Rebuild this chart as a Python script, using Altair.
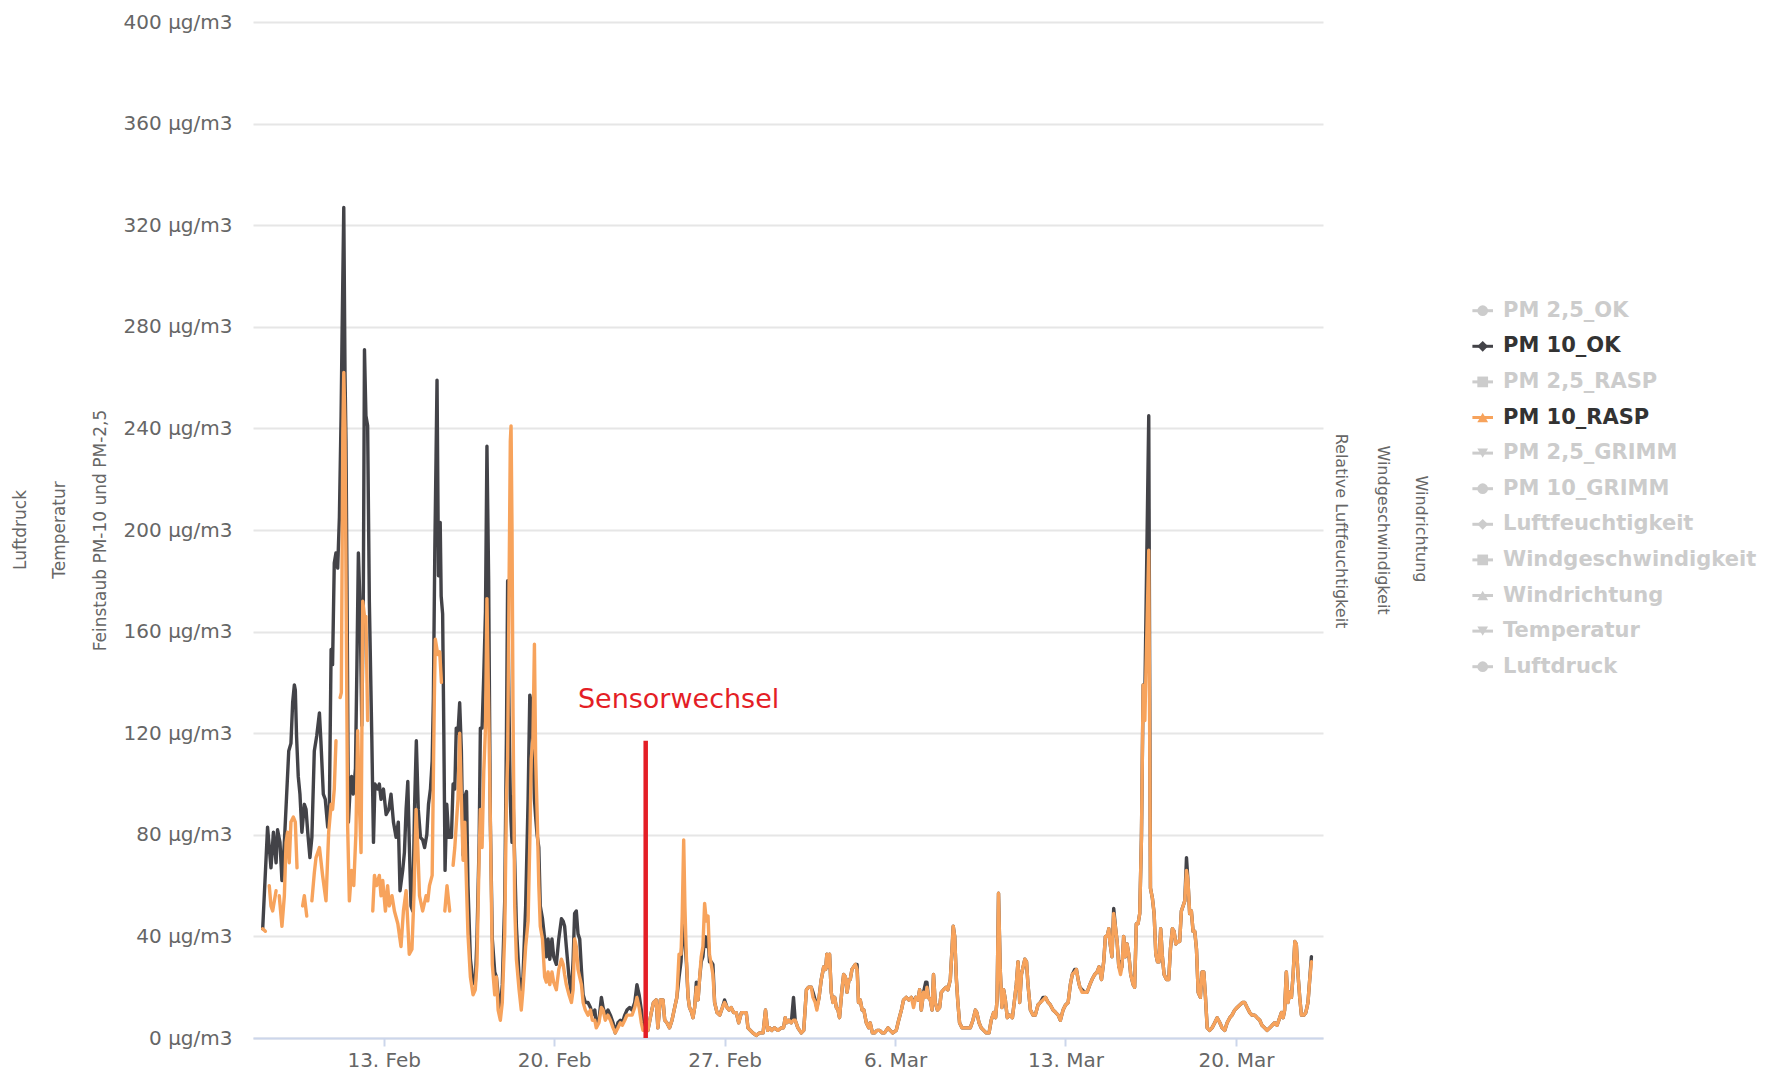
import altair as alt
import pandas as pd

START = pd.Timestamp("2017-02-08 00:00")
RED = "#e41e26"

# ---- PM 10_OK, 8-15 Feb (days after 8 Feb 00:00, µg/m3)
ok_days_a = [0.03, 0.23, 0.37, 0.47, 0.58, 0.64, 0.74, 0.82, 0.92, 1.01,
             1.10, 1.19, 1.26, 1.33, 1.37, 1.42, 1.49, 1.56, 1.64, 1.74,
             1.81, 1.88, 1.97, 2.05, 2.15, 2.25, 2.36, 2.42, 2.52, 2.60,
             2.70, 2.77, 2.84, 2.90, 2.97, 3.04, 3.11, 3.18, 3.25, 3.29,
             3.36, 3.41, 3.45, 3.49, 3.55, 3.62, 3.68, 3.75, 3.84, 3.90,
             3.96, 4.03, 4.10, 4.16, 4.21, 4.27, 4.34, 4.41, 4.51, 4.58,
             4.64, 4.75, 4.82, 4.89, 4.99, 5.10, 5.21, 5.30, 5.40, 5.51,
             5.60, 5.67, 5.78, 5.85, 5.92, 5.99, 6.05, 6.12, 6.19, 6.27,
             6.34, 6.42, 6.51, 6.60, 6.68, 6.77, 6.84, 6.92, 6.99, 7.04,
             7.10, 7.15, 7.19, 7.25, 7.32, 7.36, 7.42, 7.47, 7.52, 7.59,
             7.67]
ok_vals_a = [43, 83, 67, 81, 69, 82, 77, 62, 77, 95,
             113, 116, 132, 139, 137, 119, 103, 96, 81, 92,
             90, 81, 71, 79, 113, 119, 128, 117, 96, 94,
             83, 92, 153, 147, 187, 191, 185, 205, 245, 277,
             327, 262, 235, 182, 85, 98, 103, 96, 106, 147,
             191, 170, 123, 168, 271, 245, 241, 172, 119, 77,
             100, 98, 100, 94, 98, 88, 90, 96, 85, 79,
             85, 58, 66, 73, 90, 101, 77, 52, 50, 92,
             117, 90, 79, 78, 75, 80, 92, 98, 109, 134,
             193, 229, 259, 182, 203, 174, 167, 119, 66, 92,
             79]

# ---- PM 10_RASP, 8-15 Feb (None = gap in the series)
rasp_days_a = [0.03, 0.14, 0.22, 0.30, 0.37, 0.44, 0.51, 0.58, 0.64, 0.71,
               0.82, 0.92, 0.99, 1.05, 1.12, 1.19, 1.29, 1.37, 1.44, 1.55,
               1.67, 1.74, 1.84, 1.95, 2.05, 2.15, 2.22, 2.36, 2.42, 2.49,
               2.63, 2.74, 2.84, 2.90, 2.97, 3.04, 3.12, 3.21, 3.26, 3.32,
               3.36, 3.41, 3.52, 3.59, 3.68, 3.77, 3.86, 3.93, 4.00, 4.07,
               4.14, 4.21, 4.27, 4.34, 4.45, 4.55, 4.62, 4.71, 4.82, 4.89,
               4.96, 5.07, 5.16, 5.23, 5.34, 5.44, 5.58, 5.71, 5.81, 5.92,
               5.99, 6.05, 6.16, 6.25, 6.33, 6.40, 6.47, 6.60, 6.74, 6.81,
               6.88, 6.99, 7.08, 7.12, 7.22, 7.30, 7.37, 7.44, 7.51, 7.60,
               7.71]
rasp_vals_a = [43, 42, None, 60, 52, 50, 54, 58, None, 56,
               44, 56, 77, 81, 69, 85, 87, 85, 67, None,
               52, 56, 48, None, 54, 65, 71, 75, 70, 64,
               54, 81, 92, 90, 98, 117, None, 134, 136, 238,
               262, 240, 83, 54, 66, 60, 81, 121, 92, 73,
               172, 166, 166, 125, None, 50, 64, 60, 64, 56,
               62, 50, 60, 52, 56, 50, 45, 36, 50, 58,
               45, 33, 35, 58, 90, 75, 56, 50, 56, 54,
               60, 64, 134, 157, 151, 152, 140, None, 50, 60,
               50]

# ---- both series, 15 Feb - 23 Mar on shared times
days_b = [7.78, 7.85, 7.92, 7.98, 8.05, 8.12, 8.19, 8.26, 8.33, 8.40,
          8.46, 8.56, 8.67, 8.76, 8.83, 8.92, 8.97, 9.04, 9.11, 9.18,
          9.24, 9.31, 9.38, 9.46, 9.56, 9.63, 9.70, 9.79, 9.87, 9.97,
          10.04, 10.09, 10.15, 10.20, 10.23, 10.27, 10.31, 10.38, 10.45, 10.56,
          10.65, 10.72, 10.83, 10.93, 11.00, 11.06, 11.13, 11.19, 11.24, 11.30,
          11.37, 11.43, 11.52, 11.61, 11.68, 11.75, 11.82, 11.91, 11.98, 12.09,
          12.19, 12.30, 12.37, 12.43, 12.50, 12.61, 12.71, 12.78, 12.84, 12.91,
          12.98, 13.05, 13.12, 13.19, 13.28, 13.39, 13.49, 13.57, 13.67, 13.73,
          13.84, 13.94, 14.01, 14.10, 14.21, 14.31, 14.42, 14.51, 14.62, 14.72,
          14.80, 14.90, 14.99, 15.10, 15.20, 15.31, 15.40, 15.49, 15.58, 15.65,
          15.85, 15.99, 16.08, 16.19, 16.26, 16.36, 16.47, 16.54, 16.63, 16.74,
          16.84, 16.95, 17.04, 17.13, 17.21, 17.26, 17.32, 17.37, 17.43, 17.50,
          17.56, 17.65, 17.70, 17.77, 17.84, 17.91, 17.97, 18.04, 18.11, 18.18,
          18.25, 18.32, 18.38, 18.45, 18.52, 18.59, 18.69, 18.80, 18.91, 19.00,
          19.10, 19.18, 19.27, 19.37, 19.48, 19.58, 19.69, 19.78, 19.89, 19.96,
          20.06, 20.16, 20.30, 20.44, 20.58, 20.68, 20.77, 20.85, 20.94, 21.05,
          21.19, 21.33, 21.42, 21.49, 21.56, 21.64, 21.74, 21.83, 21.90, 22.01,
          22.15, 22.25, 22.36, 22.45, 22.56, 22.63, 22.72, 22.79, 22.88, 22.97,
          23.07, 23.15, 23.20, 23.26, 23.31, 23.38, 23.45, 23.52, 23.59, 23.66,
          23.72, 23.82, 23.89, 23.96, 24.03, 24.11, 24.16, 24.23, 24.30, 24.37,
          24.44, 24.50, 24.57, 24.65, 24.72, 24.82, 24.92, 24.98, 25.07, 25.16,
          25.26, 25.37, 25.48, 25.57, 25.71, 25.80, 25.91, 26.05, 26.15, 26.26,
          26.35, 26.46, 26.57, 26.67, 26.76, 26.85, 26.94, 27.01, 27.08, 27.17,
          27.26, 27.31, 27.37, 27.45, 27.52, 27.58, 27.65, 27.74, 27.83, 27.90,
          27.99, 28.10, 28.17, 28.27, 28.34, 28.39, 28.45, 28.52, 28.58, 28.65,
          28.75, 28.86, 29.00, 29.09, 29.20, 29.30, 29.36, 29.45, 29.54, 29.64,
          29.75, 29.86, 29.95, 30.05, 30.13, 30.19, 30.25, 30.32, 30.39, 30.46,
          30.53, 30.61, 30.71, 30.82, 30.92, 30.98, 31.05, 31.12, 31.19, 31.26,
          31.33, 31.40, 31.46, 31.56, 31.67, 31.76, 31.87, 31.97, 32.08, 32.18,
          32.29, 32.38, 32.49, 32.60, 32.70, 32.79, 32.90, 33.00, 33.11, 33.20,
          33.28, 33.38, 33.45, 33.52, 33.59, 33.68, 33.79, 33.89, 34.00, 34.09,
          34.20, 34.30, 34.38, 34.48, 34.57, 34.64, 34.71, 34.78, 34.82, 34.91,
          34.98, 35.06, 35.12, 35.19, 35.26, 35.32, 35.39, 35.46, 35.53, 35.60,
          35.68, 35.78, 35.84, 35.91, 35.98, 36.05, 36.12, 36.19, 36.26, 36.42,
          36.49, 36.57, 36.64, 36.71, 36.78, 36.84, 36.91, 36.98, 37.05, 37.15,
          37.24, 37.31, 37.39, 37.46, 37.53, 37.61, 37.69, 37.76, 37.83, 37.90,
          37.97, 38.03, 38.10, 38.17, 38.24, 38.31, 38.38, 38.45, 38.54, 38.61,
          38.68, 38.75, 38.82, 38.92, 39.02, 39.13, 39.23, 39.34, 39.43, 39.54,
          39.64, 39.75, 39.84, 39.95, 40.05, 40.16, 40.27, 40.36, 40.46, 40.57,
          40.66, 40.77, 40.87, 40.98, 41.07, 41.18, 41.28, 41.39, 41.49, 41.59,
          41.69, 41.80, 41.87, 41.94, 42.00, 42.07, 42.14, 42.21, 42.28, 42.35,
          42.42, 42.48, 42.55, 42.62, 42.69, 42.79, 42.87, 42.96, 43.03, 43.10]
ok_vals_b = [79, 100, 98, 122, 120, 132, 113, 72, 95, 97,
             60, 31, 22, 21, 39, 77, 122, 122, 143, 168,
             233, 180, 85, 39, 26, 24, 17, 11, 21, 54,
             118, 180, 127, 94, 85, 77, 95, 70, 44, 24,
             19, 24, 52, 94, 135, 132, 113, 94, 87, 80,
             75, 52, 47, 39, 32, 39, 31, 39, 32, 29,
             39, 47, 46, 44, 36, 24, 17, 31, 49, 50,
             41, 39, 27, 17, 14, 14, 12, 9, 11, 6,
             7, 16, 12, 9, 11, 9, 6, 2, 6, 7,
             6, 9, 11, 12, 11, 14, 21, 17, 11, 4,
             3, 10, 14, 15, 4, 15, 15, 7, 6, 4,
             7, 12, 16, 24, 30, 40, 45, 38, 30, 16,
             12, 10, 8, 12, 22, 15, 23, 30, 32, 40,
             36, 40, 30, 30, 29, 14, 10, 9, 12, 15,
             12, 11, 12, 10, 10, 6, 10, 10, 10, 4,
             3, 2, 1, 2, 2, 11, 3, 4, 3, 4,
             3, 4, 4, 8, 6, 7, 6, 16, 7, 4,
             2, 3, 19, 20, 20, 18, 15, 12, 16, 23,
             28, 27, 33, 28, 33, 18, 14, 16, 12, 11,
             8, 19, 25, 24, 18, 23, 23, 27, 28, 29,
             29, 14, 15, 11, 11, 6, 4, 6, 2, 2,
             3, 3, 2, 2, 4, 3, 2, 3, 7, 11,
             15, 16, 15, 16, 14, 16, 15, 19, 11, 18,
             22, 22, 16, 15, 11, 25, 14, 11, 12, 18,
             19, 20, 19, 23, 35, 44, 40, 23, 14, 6,
             4, 4, 4, 4, 7, 11, 10, 6, 4, 3,
             2, 2, 7, 10, 8, 15, 57, 27, 12, 19,
             15, 8, 9, 8, 16, 21, 30, 14, 25, 28,
             31, 30, 21, 11, 9, 9, 13, 14, 16, 16,
             14, 13, 11, 10, 9, 7, 11, 13, 14, 21,
             25, 27, 27, 23, 20, 19, 18, 18, 21, 23,
             25, 26, 28, 23, 30, 40, 40, 43, 38, 32,
             51, 43, 38, 28, 30, 28, 40, 32, 37, 33,
             25, 21, 20, 45, 45, 49, 79, 139, 135, 245,
             59, 55, 49, 33, 30, 30, 43, 32, 25, 23,
             23, 35, 43, 42, 37, 38, 38, 50, 52, 54,
             71, 62, 49, 50, 42, 42, 35, 18, 16, 26,
             26, 16, 4, 3, 4, 6, 8, 6, 4, 3,
             6, 8, 9, 11, 12, 13, 14, 14, 12, 10,
             9, 9, 8, 7, 5, 4, 3, 4, 5, 6,
             5, 8, 10, 8, 11, 26, 14, 18, 16, 25,
             38, 37, 25, 16, 9, 9, 10, 14, 23, 32]
rasp_vals_b = [None, 68, 75, 84, 94, 120, 94, 70, 85, 60,
               41, 24, 17, 19, 29, 72, 90, 75, 105, 122,
               173, 130, 85, 29, 17, 24, 11, 7, 14, 41,
               94, 110, 180, 235, 241, 200, 130, 52, 31, 19,
               11, 19, 36, 46, 77, 110, 118, 155, 110, 89,
               60, 44, 39, 24, 22, 26, 21, 26, 22, 19,
               27, 31, 29, 25, 21, 17, 14, 19, 39, 36,
               27, 24, 21, 14, 11, 9, 11, 7, 7, 4,
               6, 12, 11, 7, 9, 7, 4, 2, 4, 6,
               5, 7, 9, 9, 9, 12, 16, 12, 6, 3,
               3, 10, 14, 15, 4, 15, 15, 7, 6, 4,
               7, 12, 16, 33, 33, 48, 78, 52, 32, 16,
               12, 10, 8, 12, 20, 15, 23, 32, 36, 53,
               46, 48, 33, 29, 25, 14, 10, 9, 12, 14,
               12, 11, 12, 10, 10, 6, 10, 10, 10, 4,
               3, 2, 1, 2, 2, 11, 3, 4, 3, 4,
               3, 4, 4, 8, 6, 7, 6, 7, 7, 4,
               2, 3, 19, 20, 20, 16, 14, 11, 16, 23,
               28, 27, 33, 28, 33, 18, 14, 16, 12, 11,
               8, 19, 25, 24, 18, 23, 23, 27, 28, 29,
               27, 14, 15, 11, 11, 6, 4, 6, 2, 2,
               3, 3, 2, 2, 4, 3, 2, 3, 7, 11,
               15, 16, 15, 16, 12, 16, 15, 19, 11, 18,
               16, 20, 16, 15, 11, 25, 14, 11, 12, 18,
               19, 20, 19, 23, 35, 44, 40, 23, 14, 6,
               4, 4, 4, 4, 7, 11, 10, 6, 4, 3,
               2, 2, 7, 10, 8, 15, 57, 27, 12, 19,
               15, 8, 9, 8, 16, 21, 30, 14, 25, 28,
               31, 30, 21, 11, 9, 9, 13, 14, 15, 16,
               14, 13, 11, 10, 9, 7, 11, 13, 14, 21,
               25, 26, 27, 23, 20, 18, 18, 18, 21, 23,
               25, 26, 28, 23, 30, 40, 40, 43, 38, 32,
               49, 43, 38, 28, 25, 28, 40, 32, 37, 33,
               25, 21, 20, 45, 45, 49, 79, 139, 125, 192,
               59, 55, 49, 33, 30, 30, 43, 32, 25, 23,
               23, 35, 43, 42, 37, 38, 38, 50, 52, 54,
               66, 62, 49, 50, 42, 42, 35, 18, 16, 26,
               26, 16, 4, 3, 4, 6, 8, 6, 4, 3,
               6, 8, 9, 11, 12, 13, 14, 14, 12, 10,
               9, 9, 8, 7, 5, 4, 3, 4, 5, 6,
               5, 8, 10, 8, 11, 26, 14, 18, 16, 25,
               38, 37, 25, 16, 9, 9, 10, 14, 23, 30]

assert len(ok_days_a) == len(ok_vals_a)
assert len(rasp_days_a) == len(rasp_vals_a)
assert len(days_b) == len(ok_vals_b) == len(rasp_vals_b)

# annotation: sensor change
sensor_day = 15.76
sensor_top = 117
sensor_label = "Sensorwechsel"
sensor_label_day = 17.11
sensor_label_val = 133

y_ticks = list(range(0, 401, 40))
x_tick_dates = [(2017, 2, 13), (2017, 2, 20), (2017, 2, 27), (2017, 3, 6), (2017, 3, 13), (2017, 3, 20)]

legend_names = ["PM 2,5_OK", "PM 10_OK", "PM 2,5_RASP", "PM 10_RASP", "PM 2,5_GRIMM",
                "PM 10_GRIMM", "Luftfeuchtigkeit", "Windgeschwindigkeit", "Windrichtung",
                "Temperatur", "Luftdruck"]
legend_shapes = ["circle", "diamond", "square", "triangle-up", "triangle-down",
                 "circle", "diamond", "square", "triangle-up", "triangle-down", "circle"]
legend_sym = ["#cccccc", "#434348", "#cccccc", "#f7a35c", "#cccccc",
              "#cccccc", "#cccccc", "#cccccc", "#cccccc", "#cccccc", "#cccccc"]
legend_txt = ["#cccccc", "#333333", "#cccccc", "#333333", "#cccccc",
              "#cccccc", "#cccccc", "#cccccc", "#cccccc", "#cccccc", "#cccccc"]

left_titles = ["Luftdruck", "Temperatur"]
right_titles = ["Relative Luftfeuchtigkeit", "Windgeschwindigkeit", "Windrichtung"]


def ts(d):
    return (START + pd.Timedelta(days=d)).strftime("%Y-%m-%dT%H:%M:%S")


def frame(days, vals):
    df = pd.DataFrame({"d": days, "v": vals})
    df["v"] = pd.to_numeric(df["v"])
    df["seg"] = df["v"].isna().cumsum()
    df = df.dropna(subset=["v"]).copy()
    df["t"] = [ts(d) for d in df["d"]]
    return df[["t", "v", "seg"]]


ok_df = frame(ok_days_a + days_b, ok_vals_a + ok_vals_b)
rasp_df = frame(rasp_days_a + days_b, rasp_vals_a + rasp_vals_b)

FONT = "DejaVu Sans"
GREY = "#666666"
LW = 3.4

x_enc = alt.X(
    "t:T",
    title=None,
    scale=alt.Scale(domain=[alt.DateTime(year=2017, month=2, date=7, hours=15, minutes=10),
                            alt.DateTime(year=2017, month=3, date=23, hours=13, minutes=50)]),
    axis=alt.Axis(values=[alt.DateTime(year=a, month=b, date=c) for a, b, c in x_tick_dates],
                  format="%-d. %b", labelFont=FONT, labelFontSize=20, labelColor=GREY,
                  tickColor="#ccd6eb", tickSize=8, tickWidth=2, domainColor="#ccd6eb",
                  domainWidth=2, grid=False, labelPadding=4),
)
y_enc = alt.Y(
    "v:Q",
    scale=alt.Scale(domain=[0, 400], nice=False),
    axis=alt.Axis(values=y_ticks, labelExpr="datum.value + ' \u00b5g/m3'", tickSize=0,
                  labelPadding=21, domain=False, gridColor="#e6e6e6", gridWidth=2,
                  labelFont=FONT, labelFontSize=20, labelColor=GREY,
                  title="Feinstaub PM-10 und PM-2,5", titleFont=FONT, titleFontSize=17,
                  titleFontWeight="normal", titleColor=GREY, titleAngle=270,
                  titleX=-152.3, titleY=508, titleAlign="center", titleBaseline="middle"),
)

ok_line = alt.Chart(ok_df).mark_line(color="#434348", strokeWidth=LW, strokeJoin="round",
                                     strokeCap="round").encode(x=x_enc, y=y_enc, detail="seg:N")
rasp_line = alt.Chart(rasp_df).mark_line(color="#f7a35c", strokeWidth=LW, strokeJoin="round",
                                         strokeCap="round").encode(x=x_enc, y=y_enc, detail="seg:N")

rule_df = pd.DataFrame({"t": [ts(sensor_day)], "v": [0], "v2": [sensor_top]})
red_rule = alt.Chart(rule_df).mark_rule(color=RED, strokeWidth=4.5).encode(
    x=x_enc, y=y_enc, y2="v2:Q")
lab_df = pd.DataFrame({"t": [ts(sensor_label_day)], "v": [sensor_label_val], "label": [sensor_label]})
red_text = alt.Chart(lab_df).mark_text(color=RED, fontSize=27, font=FONT, align="center",
                                       baseline="middle").encode(x=x_enc, y=y_enc, text="label:N")

main = alt.layer(ok_line, rasp_line, red_rule, red_text)

leg_df = pd.DataFrame({"name": legend_names, "shape": legend_shapes,
                       "sym": legend_sym, "txt": legend_txt})
ly = alt.Y("name:N", scale=alt.Scale(type="point", domain=legend_names,
                                     range=[288.7, 644.7], padding=0), axis=None)
leg_rule = alt.Chart(leg_df).mark_rule(strokeWidth=3).encode(
    x=alt.value(1219.4), x2=alt.value(1240.0), y=ly, color=alt.Color("sym:N", scale=None))
leg_pt = alt.Chart(leg_df).mark_point(filled=True, size=115, opacity=1).encode(
    x=alt.value(1229.7), y=ly, shape=alt.Shape("shape:N", scale=None),
    color=alt.Color("sym:N", scale=None))
leg_txt = alt.Chart(leg_df).mark_text(align="left", baseline="middle", font=FONT,
                                      fontSize=21, fontWeight="bold").encode(
    x=alt.value(1250), y=ly, text="name:N", fill=alt.Fill("txt:N", scale=None))
legend = alt.layer(leg_rule, leg_pt, leg_txt)


def side_title(text, px, py, angle, size):
    return alt.Chart(pd.DataFrame({"label": [text]})).mark_text(
        angle=angle, fontSize=size, font=FONT, color=GREY, align="center",
        baseline="middle").encode(x=alt.value(px), y=alt.value(py), text="label:N")


titles = [
    side_title(left_titles[0], -232.3, 508, 270, 17),
    side_title(left_titles[1], -193.3, 508, 270, 17),
    side_title(right_titles[0], 1088.2, 509, 90, 16),
    side_title(right_titles[1], 1129.7, 508, 90, 16),
    side_title(right_titles[2], 1168.4, 507, 90, 16),
]

chart = alt.layer(main, legend, *titles).resolve_scale(y="independent").properties(
    width=1070, height=1016,
    background="white",
    autosize=alt.AutoSizeParams(type="none"),
    padding={"left": 245, "top": 14, "right": 440, "bottom": 32},
).configure(font=FONT).configure_view(strokeWidth=0, stroke="transparent")

chart.save("out.html", embed_options={"renderer": "svg", "actions": False})
